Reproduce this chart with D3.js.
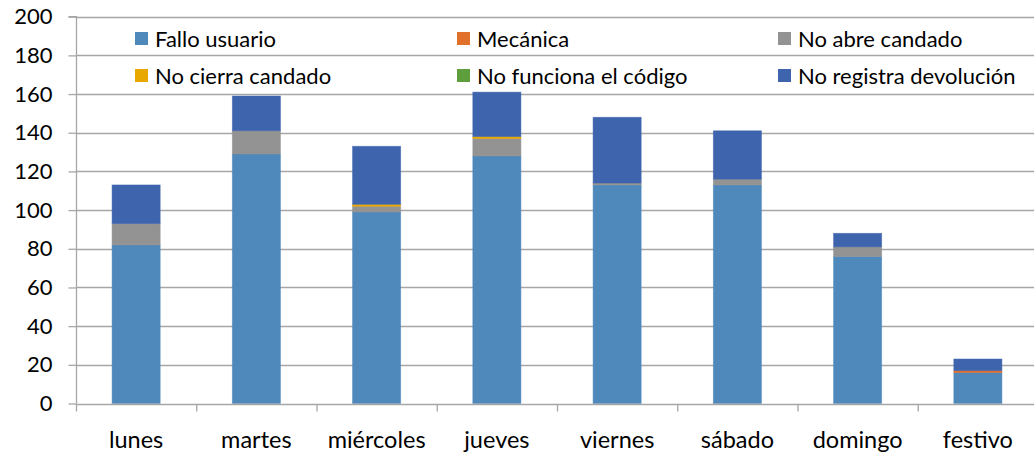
<!DOCTYPE html>
<html>
<head>
<meta charset="utf-8">
<script src="https://cdn.jsdelivr.net/npm/d3@7"></script>
<style>
  html, body { margin: 0; padding: 0; background: #fff; }
  svg { display: block; font-family: Lato, "Open Sans", sans-serif; }
</style>
</head>
<body>
<svg id="chart" width="1034" height="453"></svg>
<script>
// Incidencias por día de la semana, apiladas por tipo
const days = ["lunes", "martes", "miércoles", "jueves", "viernes", "sábado", "domingo", "festivo"];
const seriesNames = ["Fallo usuario", "Mecánica", "No abre candado", "No cierra candado", "No funciona el código", "No registra devolución"];
const seriesColors = ["#4f88bb", "#e0702a", "#939393", "#e8a800", "#5f9e3d", "#3e64ae"];

const falloUsuario = [82, 129, 99, 128, 113, 113, 76, 16];
const mecanica = [0, 0, 0, 0, 0, 0, 0, 1];
const noAbreCandado = [11, 12, 3, 9, 1, 3, 5, 0];
const noCierraCandado = [0, 0, 1, 1, 0, 0, 0, 0];
const noFuncionaCodigo = [0, 0, 0, 0, 0, 0, 0, 0];
const noRegistraDevolucion = [20, 18, 30, 23, 34, 25, 7, 6];

const yTicks = [0, 20, 40, 60, 80, 100, 120, 140, 160, 180, 200];

const seriesValues = [falloUsuario, mecanica, noAbreCandado, noCierraCandado, noFuncionaCodigo, noRegistraDevolucion];
const rows = days.map((d, i) => {
  const r = { day: d };
  seriesNames.forEach((s, j) => { r[s] = seriesValues[j][i]; });
  return r;
});

const svg = d3.select("#chart");
const plotLeft = 76, plotRight = 1038, plotTop = 16.7, plotBottom = 403.5;

const x = d3.scaleBand().domain(days).range([plotLeft, plotRight]).paddingInner(0.6).paddingOuter(0.3);
const xOuter = d3.scaleBand().domain(days).range([plotLeft, plotRight]).padding(0);
const y = d3.scaleLinear().domain([0, 200]).range([plotBottom, plotTop]);

// horizontal gridlines
svg.append("g").selectAll("line").data(yTicks.filter(t => t > 0)).join("line")
  .attr("x1", plotLeft).attr("x2", 1034)
  .attr("y1", d => Math.round(y(d)) + 0.5).attr("y2", d => Math.round(y(d)) + 0.5)
  .attr("stroke", "#a6a6a6").attr("stroke-width", 1.3);

// y axis
const yAxis = svg.append("g").attr("transform", `translate(${plotLeft + 0.5},0)`)
  .call(d3.axisLeft(y).tickValues(yTicks).tickSize(8).tickPadding(16));
yAxis.select(".domain").attr("stroke", "#a6a6a6").attr("stroke-width", 1.3).attr("d", `M-8,${y(200)}H0V${plotBottom}`);
yAxis.selectAll(".tick line").attr("stroke", "#a6a6a6").attr("stroke-width", 1.3);
yAxis.selectAll(".tick text").attr("font-size", 22).attr("fill", "#000").attr("font-family", "Lato, sans-serif");

// stacked bars
const stack = d3.stack().keys(seriesNames)(rows);
svg.append("g").selectAll("g").data(stack).join("g")
  .attr("fill", (d, i) => seriesColors[i])
  .selectAll("rect").data(d => d.filter(p => p[1] > p[0])).join("rect")
  .attr("x", d => x(d.data.day))
  .attr("width", x.bandwidth())
  .attr("y", d => y(d[1]))
  .attr("height", d => y(d[0]) - y(d[1]))
  .attr("stroke", (d, i, n) => d3.select(n[i].parentNode).attr("fill"))
  .attr("stroke-opacity", 0.6)
  .attr("stroke-width", 0.8);

// x axis with ticks between categories
const xAxis = svg.append("g").attr("transform", `translate(0,${Math.round(plotBottom) + 0.5})`);
xAxis.append("line").attr("x1", plotLeft).attr("x2", 1034).attr("stroke", "#a6a6a6").attr("stroke-width", 1.3);
xAxis.selectAll("line.tk").data(days).join("line").attr("class", "tk")
  .attr("x1", d => xOuter(d) + 0.5).attr("x2", d => xOuter(d) + 0.5)
  .attr("y1", 0).attr("y2", 7).attr("stroke", "#a6a6a6").attr("stroke-width", 1.3);
xAxis.selectAll("text").data(days).join("text")
  .attr("x", d => x(d) + x.bandwidth() / 2)
  .attr("y", 43)
  .attr("text-anchor", "middle")
  .attr("font-size", 23.5)
  .attr("fill", "#000")
  .text(d => d);

// legend: two rows of three
const legendX = [135, 457, 778];
const legendY = [39, 76];
const legend = svg.append("g").selectAll("g").data(seriesNames).join("g")
  .attr("transform", (d, i) => `translate(${legendX[i % 3]},${legendY[Math.floor(i / 3)]})`);
legend.append("rect").attr("x", 0).attr("y", -7).attr("width", 13).attr("height", 13)
  .attr("fill", (d, i) => seriesColors[i]);
legend.append("text").attr("x", 20).attr("y", 7.5).attr("font-size", 22).attr("fill", "#000").text(d => d);
</script>
</body>
</html>
